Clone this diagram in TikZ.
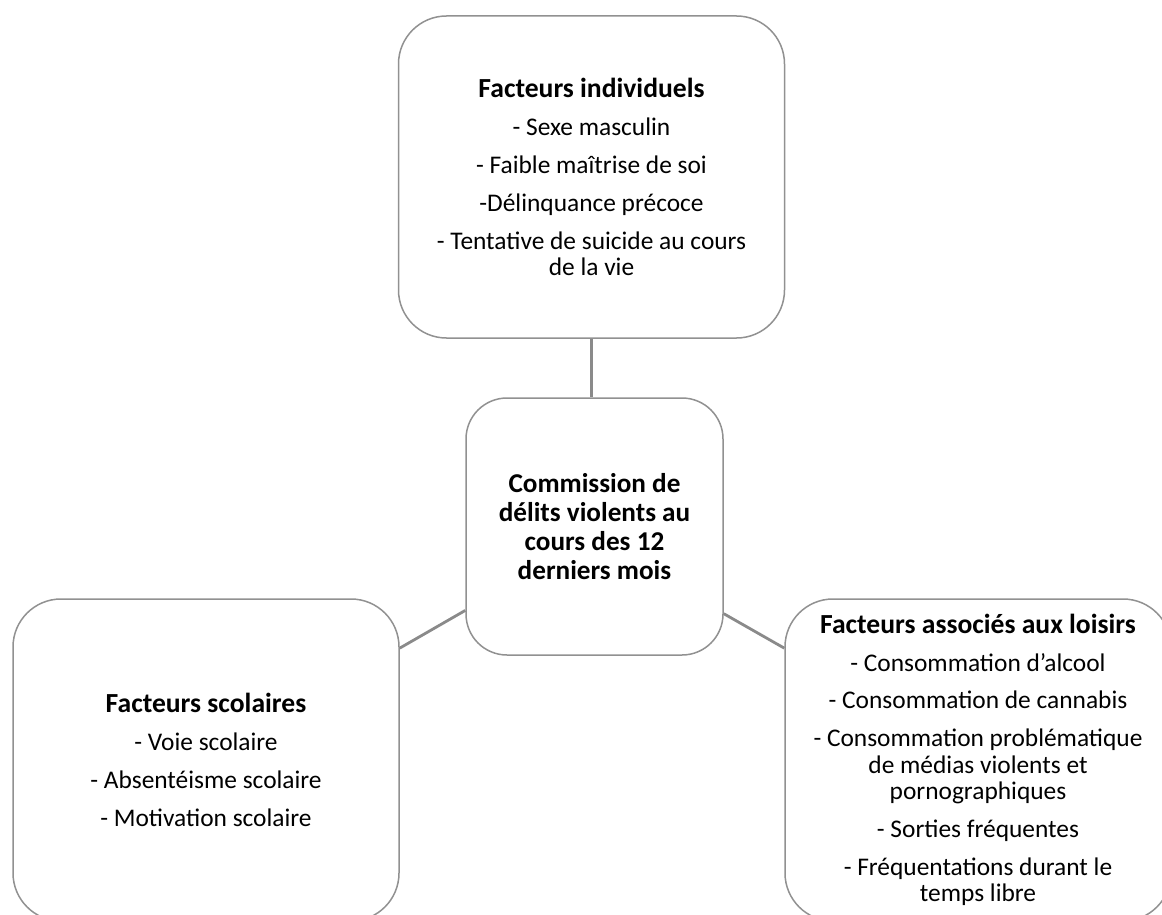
\documentclass[tikz,border=0pt]{standalone}
\usepackage{fontspec}
\setmainfont{Carlito}
\usepackage{xcolor}
\usepackage{tikz}
\usetikzlibrary{calc}

\definecolor{boxgray}{HTML}{919191}
\definecolor{linkgray}{HTML}{8A8A8A}
\newcommand{\factorfont}{\fontsize{12.7}{13.4}\selectfont\lineskiplimit=-20pt\relax}
\newcommand{\factortitle}[1]{{\bfseries\fontsize{13.8}{13.4}\selectfont #1}}

\begin{document}
\begin{tikzpicture}[x=0.5pt, y=-0.5pt,
    factor/.style={rectangle, draw=boxgray, line width=0.75pt, fill=white, rounded corners=24pt, minimum width=193pt, minimum height=161pt, inner sep=0pt, align=center, font=\factorfont},
    core/.style={factor, rounded corners=20.5pt, minimum width=128.5pt, minimum height=128.5pt, font=\bfseries\fontsize{13.6}{14.5}\selectfont},
    line/.style={draw=linkgray, line width=1.4pt}]

    \useasboundingbox (0,0) rectangle (1162,915);
    \clip (0,0) rectangle (1162,915);

    % Centre: the outcome
    \node [core] (cent) at (594.5,526.5) {Commission de\\délits violents au\\cours des 12\\derniers mois};

    % Top: individual factors
    \node [factor] (indiv) at (591.5,177) {\factortitle{Facteurs individuels}\\[5.6pt]
        - Sexe masculin\\[5.6pt]
        - Faible maîtrise de soi\\[5.6pt]
        -Délinquance précoce\\[5.6pt]
        - Tentative de suicide au cours\\de la vie};

    % Bottom left: school factors
    \node [factor] (scol) at (206,760) {\factortitle{Facteurs scolaires}\\[5.6pt]
        - Voie scolaire\\[5.6pt]
        - Absentéisme scolaire\\[5.6pt]
        - Motivation scolaire};

    % Bottom right: leisure factors
    \node [factor] (loisir) at (978,760) {\factortitle{Facteurs associés aux loisirs}\\[5.4pt]
        - Consommation d’alcool\\[5.4pt]
        - Consommation de cannabis\\[5.4pt]
        - Consommation problématique\\de médias violents et\\pornographiques\\[5.4pt]
        - Sorties fréquentes\\[5.4pt]
        - Fréquentations durant le\\temps libre};

    % Connectors
    \draw [line] (indiv.south) -- (indiv.south |- cent.north);
    \draw [line] (cent.213.6) -- (scol.30.3);
    \draw [line] (cent.326.4) -- (loisir.150.8);
\end{tikzpicture}
\end{document}
